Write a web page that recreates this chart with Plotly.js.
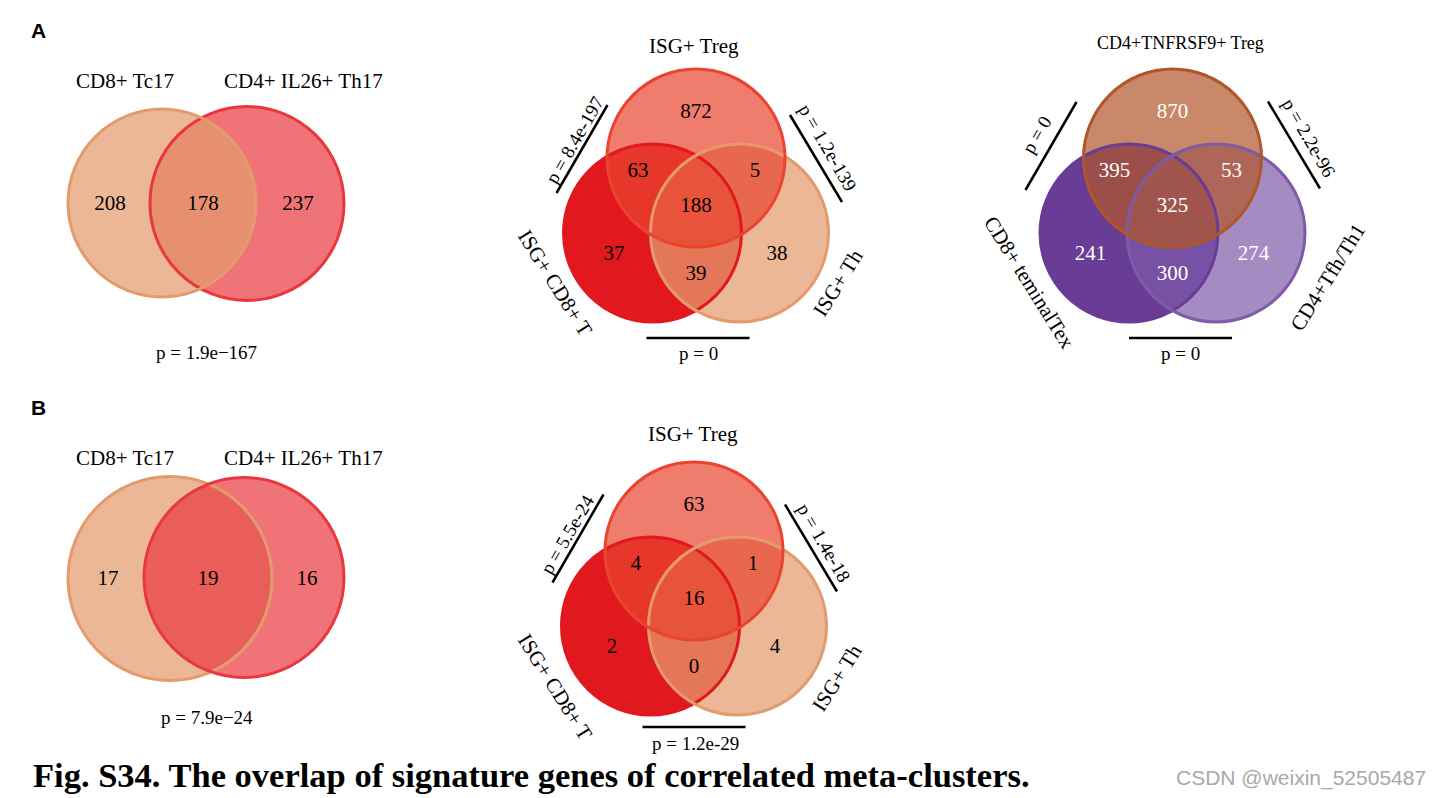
<!DOCTYPE html>
<html>
<head>
<meta charset="utf-8">
<script src="https://cdn.plot.ly/plotly-3.0.1.min.js"></script>
<style>html,body{margin:0;padding:0;background:#fff;overflow:hidden}</style>
</head>
<body>
<div id="chart" style="width:1443px;height:798px"></div>
<script>
// ================= DATA =================
const panelLetters = ["A", "B"];
const captionText = "Fig. S34. The overlap of signature genes of correlated meta-clusters.";
const watermarkText = "CSDN @weixin_52505487";

// 2-set Venns: counts = [left only, both, right only]
const vennA1Sets = ["CD8+ Tc17", "CD4+ IL26+ Th17"];
const vennA1Counts = [208, 178, 237];
const vennA1P = "p = 1.9e\u2212167";

const vennB1Sets = ["CD8+ Tc17", "CD4+ IL26+ Th17"];
const vennB1Counts = [17, 19, 16];
const vennB1P = "p = 7.9e\u221224";

// 3-set Venns: sets = [top, left, right]
// counts = [top only, left only, right only, top&left, top&right, left&right, all three]
// p = [top-left, top-right, left-right]
const vennA2Sets = ["ISG+ Treg", "ISG+ CD8+ T", "ISG+ Th"];
const vennA2Counts = [872, 37, 38, 63, 5, 39, 188];
const vennA2P = ["p = 8.4e-197", "p = 1.2e-139", "p = 0"];

const vennA3Sets = ["CD4+TNFRSF9+ Treg", "CD8+ teminalTex", "CD4+Tfh/Th1"];
const vennA3Counts = [870, 241, 274, 395, 53, 300, 325];
const vennA3P = ["p = 0", "p = 2.2e-96", "p = 0"];

const vennB2Sets = ["ISG+ Treg", "ISG+ CD8+ T", "ISG+ Th"];
const vennB2Counts = [63, 2, 4, 4, 1, 0, 16];
const vennB2P = ["p = 5.5e-24", "p = 1.4e-18", "p = 1.2e-29"];

// ================= STYLE / GEOMETRY =================
const W = 1443, H = 798;
const SERIF = "Liberation Serif, Times New Roman, serif";
const SANS = "Liberation Sans, Arial, sans-serif";
const OUTLINE_W = 3;
const PLINE_W = 2.5;
const NUM_SIZE = 21, NUM_DY = 1.5;

const ORANGE = [227, 155, 109], RED2 = [234, 55, 62];
const redPalette = { top: [[234, 68, 48], 0.7], left: [[225, 25, 30], 1], right: [[227, 155, 109], 0.72] };
const purplePalette = { top: [[176, 86, 41], 0.7], left: [[105, 60, 150], 1], right: [[126, 91, 169], 0.7] };

function rgba(c, a) { return `rgba(${c[0]},${c[1]},${c[2]},${a})`; }
function rgb(c) { return `rgb(${c[0]},${c[1]},${c[2]})`; }

const geomA1 = { left: [162, 203, 94], right: [247, 203.5, 97], labels: [[125, 81], [303, 81]],
  nums: [[110, 203], [203, 203], [298, 203]], p: [206, 352], pSize: 19, redOnTop: false };
const geomB1 = { left: [170, 578.5, 102], right: [244, 577.5, 100], labels: [[125, 458], [303, 458]],
  nums: [[108, 578], [208, 578], [307, 578]], p: [207, 717], pSize: 19, redOnTop: true };

// offsets relative to the centroid of the three circle centres
const circOff = { top: [0, -50], left: [-43.5, 25], right: [43.5, 25] };
const numOff = [[0, -97], [-82, 45], [81, 45], [-58, -38], [59, -38], [0, 65], [0, -3]];
const geomA2 = { c: [696, 208], r: 89, palette: redPalette, numColor: "#000", topSize: 21,
  labelOff: [[-2, -162], [-141, 75], [142, 75]],
  lineMid: [[-114, -59], [120, -49.5], [2, 130]],
  pOff: [[-122, -68], [132, -61], [2, 145]] };
const geomA3 = { c: [1172.5, 208], r: 89, palette: purplePalette, numColor: "#fff", topSize: 18,
  labelOff: [[8, -165], [-143.5, 74], [155.5, 69]],
  lineMid: [[-121.5, -62], [121.5, -63], [8, 130]],
  pOff: [[-136.5, -73], [136.5, -71], [7.5, 145]] };
const geomB2 = { c: [694, 601], r: 89, palette: redPalette, numColor: "#000", topSize: 21,
  labelOff: [[-1, -167], [-139, 86], [143, 77]],
  lineMid: [[-116, -62.5], [117, -53], [0, 126]],
  pOff: [[-127, -67], [130, -59], [1, 142]] };
const lineHalf = [[25.5, -44], [26, 43.5], [51.5, 0]];

const shapes = [];
const annotations = [];
const traces = [];

function circle(cx, cy, r, fill, line) {
  return { type: "circle", xref: "x", yref: "y", x0: cx - r, x1: cx + r, y0: cy - r, y1: cy + r,
    fillcolor: fill, line: { color: line, width: line === "rgba(0,0,0,0)" ? 0 : OUTLINE_W }, layer: "below" };
}
function text(x, y, t, size, opts) {
  return Object.assign({ x: x, y: y, xref: "x", yref: "y", text: t, showarrow: false,
    xanchor: "center", yanchor: "middle", font: { family: SERIF, size: size, color: "#000" } }, opts || {});
}

function venn2(sets, counts, p, g) {
  const L = g.left, R = g.right;
  const order = g.redOnTop ? [["L", ORANGE, 0.72], ["R", RED2, 0.7]] : [["R", RED2, 0.7], ["L", ORANGE, 0.72]];
  order.forEach(([k, col, a]) => { const c = k === "L" ? L : R; shapes.push(circle(c[0], c[1], c[2], rgba(col, a), "rgba(0,0,0,0)")); });
  order.forEach(([k, col]) => { const c = k === "L" ? L : R; shapes.push(circle(c[0], c[1], c[2], "rgba(0,0,0,0)", rgb(col))); });
  sets.forEach((s, i) => annotations.push(text(g.labels[i][0], g.labels[i][1], s, 21)));
  traces.push({ type: "scatter", mode: "text", x: g.nums.map(d => d[0]), y: g.nums.map(d => d[1] + NUM_DY),
    text: counts.map(String), textposition: "middle center", hoverinfo: "skip", cliponaxis: false,
    textfont: { family: SERIF, size: NUM_SIZE, color: "#000" }, showlegend: false });
  annotations.push(text(g.p[0], g.p[1], p, g.pSize));
}

function venn3(sets, counts, pvals, g) {
  const [cx, cy] = g.c, r = g.r, pal = g.palette;
  const keys = ["left", "right", "top"];
  keys.forEach(k => shapes.push(circle(cx + circOff[k][0], cy + circOff[k][1], r, rgba(pal[k][0], pal[k][1]), "rgba(0,0,0,0)")));
  keys.forEach(k => shapes.push(circle(cx + circOff[k][0], cy + circOff[k][1], r, "rgba(0,0,0,0)", rgb(pal[k][0]))));
  // set labels: top, left, right
  annotations.push(text(cx + g.labelOff[0][0], cy + g.labelOff[0][1], sets[0], g.topSize));
  annotations.push(text(cx + g.labelOff[1][0], cy + g.labelOff[1][1], sets[1], 21, { textangle: 58 }));
  annotations.push(text(cx + g.labelOff[2][0], cy + g.labelOff[2][1], sets[2], 21, { textangle: -58 }));
  // counts
  traces.push({ type: "scatter", mode: "text", x: numOff.map(o => cx + o[0]), y: numOff.map(o => cy + o[1] + NUM_DY),
    text: counts.map(String), textposition: "middle center", hoverinfo: "skip", cliponaxis: false,
    textfont: { family: SERIF, size: NUM_SIZE, color: g.numColor }, showlegend: false });
  // p-value lines and texts
  const angles = [-60, 60, 0];
  pvals.forEach((pv, i) => {
    const m = g.lineMid[i], h = lineHalf[i];
    shapes.push({ type: "line", xref: "x", yref: "y", x0: cx + m[0] - h[0], y0: cy + m[1] - h[1],
      x1: cx + m[0] + h[0], y1: cy + m[1] + h[1], line: { color: "#000", width: PLINE_W }, layer: "below" });
    annotations.push(text(cx + g.pOff[i][0], cy + g.pOff[i][1], pv, 19, { textangle: angles[i] }));
  });
}

venn2(vennA1Sets, vennA1Counts, vennA1P, geomA1);
venn3(vennA2Sets, vennA2Counts, vennA2P, geomA2);
venn3(vennA3Sets, vennA3Counts, vennA3P, geomA3);
venn2(vennB1Sets, vennB1Counts, vennB1P, geomB1);
venn3(vennB2Sets, vennB2Counts, vennB2P, geomB2);

// panel letters
annotations.push(text(38.5, 30, panelLetters[0], 21, { font: { family: SANS, size: 21, color: "#000", weight: "bold" } }));
annotations.push(text(38.5, 407.5, panelLetters[1], 21, { font: { family: SANS, size: 21, color: "#000", weight: "bold" } }));
// caption
annotations.push(text(31, 775, "<b>" + captionText + "</b>", 34.5, { xanchor: "left" }));
// watermark
annotations.push(text(1428, 778, watermarkText, 21, { xanchor: "right", font: { family: SANS, size: 21, color: "#a8a8a8" } }));

const layout = {
  width: W, height: H,
  margin: { l: 0, r: 0, t: 0, b: 0, pad: 0 },
  paper_bgcolor: "#fff", plot_bgcolor: "rgba(0,0,0,0)",
  xaxis: { range: [0, W], visible: false, fixedrange: true },
  yaxis: { range: [H, 0], visible: false, fixedrange: true },
  shapes: shapes,
  annotations: annotations,
  showlegend: false
};
Plotly.newPlot("chart", traces, layout, { staticPlot: true, displayModeBar: false });
</script>
</body>
</html>
